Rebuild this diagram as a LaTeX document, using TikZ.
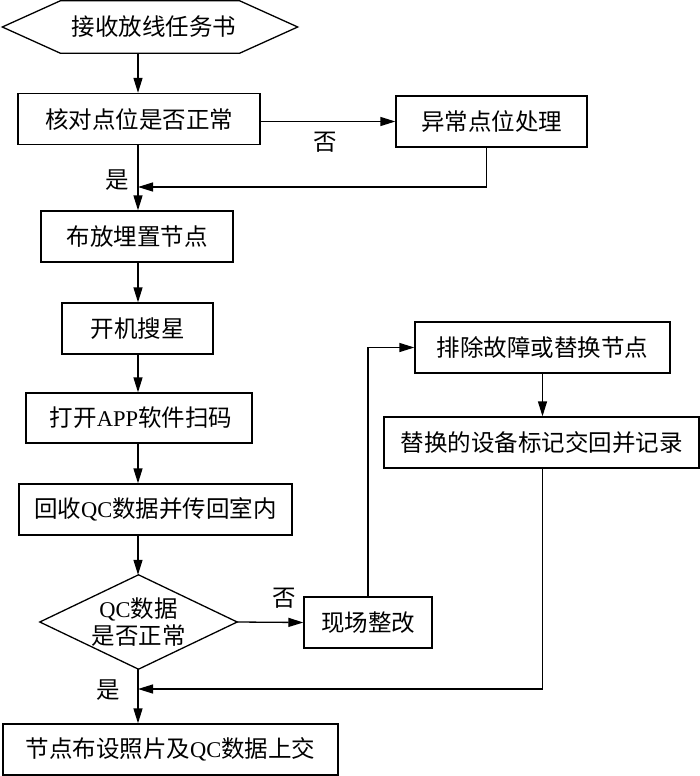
\documentclass[tikz,border=0pt]{standalone}
\usepackage{fontspec}
\setmainfont{Liberation Serif}
\newfontfamily\cjk{Noto Sans CJK SC}
\usetikzlibrary{arrows.meta,calc}
\newcommand{\lat}[1]{{\rmfamily\fontsize{22.5}{27}\selectfont #1}}
\begin{document}
\begin{tikzpicture}[x=1pt,y=-1pt,
  txt/.style={font=\cjk\fontsize{23.5}{27}\selectfont, inner sep=0pt},
  box/.style={txt, draw, line width=1.3pt, minimum height=51pt},
  ar/.style={-{Triangle[length=15pt,width=9pt]}, line width=1.3pt},
  ln/.style={line width=1.3pt},
  lbl/.style={txt}]
\useasboundingbox (0,0) rectangle (700,776);
\coordinate (colx) at (138,0);
% start hexagon
\node[txt, minimum width=295pt, minimum height=52pt] (hex) at (150,27) {\hspace{8pt}接收放线任务书};
\draw[ln] (hex.west) -- ($(hex.north west)+(58,0)$) -- ($(hex.north east)+(-58,0)$) -- (hex.east)
  -- ($(hex.south east)+(-58,0)$) -- ($(hex.south west)+(58,0)$) -- cycle;
% main column
\node[box, minimum width=242pt] (b1) at (139,119) {核对点位是否正常};
\node[box, minimum width=191pt] (no1) at (491.5,121.5) {异常点位处理};
\node[box, minimum width=192pt] (b2) at (137,236.5) {布放埋置节点};
\node[box, minimum width=151pt] (b3) at (137.5,328.5) {开机搜星};
\node[box, minimum width=226pt, minimum height=50pt] (b4) at (139,418) {\hspace{4pt}打开\lat{APP}软件扫码};
\node[box, minimum width=273pt] (b5) at (155.5,509.5) {回收\lat{QC}数据并传回室内};
\node[txt, minimum width=197pt, minimum height=94pt, align=center] (dia) at (138.5,622) {\lat{QC}数据\\是否正常};
\draw[ln] (dia.west) -- (dia.north) -- (dia.east) -- (dia.south) -- cycle;
\node[box, minimum width=128pt] (fix) at (368,622.5) {现场整改};
\node[box, minimum width=255pt] (rep1) at (542.5,347.5) {排除故障或替换节点};
\node[box, minimum width=315pt] (rep2) at (541.5,442.5) {替换的设备标记交回并记录};
\node[box, minimum width=335pt] (fin) at (170.5,749.5) {节点布设照片及\lat{QC}数据上交};
% merge points
\coordinate (m1) at (138,187);
\coordinate (m2) at (138,689);
% connectors
\draw[ar] (hex.south -| colx) -- (b1.north -| colx);
\draw[ar] (b1.east |- no1.west) -- (no1.west);
\draw[ar] ([xshift=-5pt]no1.south) |- (m1);
\draw[ar] (b1.south -| colx) -- (b2.north -| colx);
\draw[ar] (b2.south -| colx) -- (b3.north -| colx);
\draw[ar] (b3.south -| colx) -- (b4.north -| colx);
\draw[ar] (b4.south -| colx) -- (b5.north -| colx);
\draw[ar] (b5.south -| colx) -- (dia.north -| colx);
\draw[ar] (dia.south -| colx) -- (fin.north -| colx);
\draw[ar] (dia.east) -- (fix.west);
\draw[ar] (fix.north) |- (rep1.west);
\draw[ar] (rep1.south) -- (rep1.south |- rep2.north);
\draw[ar] (rep2.south -| rep1.south) |- (m2);
% labels
\node[lbl] (l1) at (325,142) {否};
\node[lbl] (l2) at (117,180) {是};
\node[lbl] (l3) at (284,598) {否};
\node[lbl] (l4) at (108,690) {是};
\end{tikzpicture}
\end{document}
